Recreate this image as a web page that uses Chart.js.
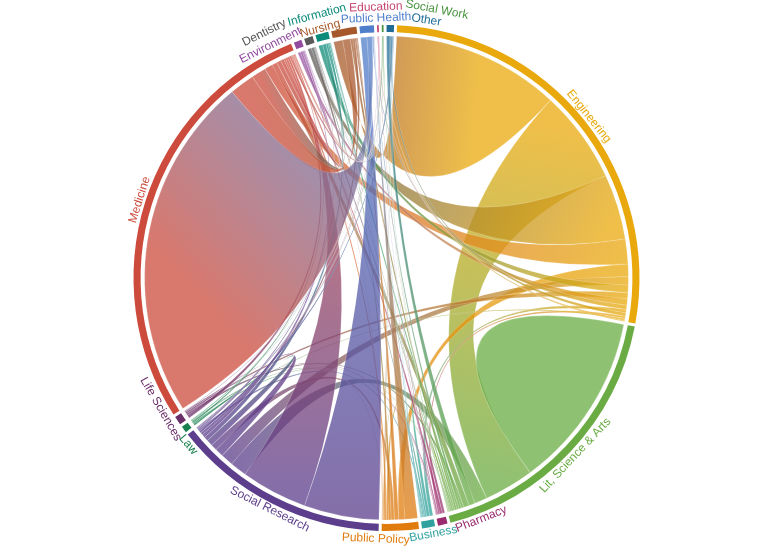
<!DOCTYPE html>
<html>
<head>
<meta charset="utf-8">
<title>Chord chart</title>
<script src="https://cdn.jsdelivr.net/npm/chart.js@4.4.1/dist/chart.umd.min.js"></script>
<style>
  html, body { margin: 0; padding: 0; background: #fff; }
</style>
</head>
<body>
<canvas id="chordChart" width="773" height="554"></canvas>
<script>
// Units around the circle (clockwise, starting at the top)
const units = [
    'Engineering', 'Lit, Science & Arts', 'Pharmacy', 'Business', 'Public Policy',
    'Social Research', 'Law', 'Life Sciences', 'Medicine', 'Environment',
    'Dentistry', 'Information', 'Nursing', 'Public Health', 'Education',
    'Social Work', 'Other'
];

const unitColors = [
    '#e9a90d', '#6aac43', '#9a2b6e', '#2fa2a0', '#e07b0d',
    '#5c3e8c', '#17804e', '#6b2f6a', '#cc4b3c', '#924b9f',
    '#5a5a5a', '#0c8b7b', '#a6582b', '#4f7fcb', '#c6446f',
    '#4a9440', '#1f6b96'
];

// One row per unit: ribbon width at that unit's end, columns in the same order as units
const engineeringRow    = [0, 223, 5, 8, 30, 20, 3, 15, 60, 15, 157, 18, 403, 10, 3, 2, 8];
const litScienceArtsRow = [120, 425, 3, 4, 4, 30, 2, 6, 13, 2, 1, 5, 5, 6, 1, 1, 15];
const pharmacyRow       = [4, 6, 0, 0, 0, 1, 0, 2, 6, 0, 0, 0, 1, 2, 0, 0, 0];
const businessRow       = [8, 7, 0, 0, 4, 3, 0, 0, 3, 0, 0, 2, 0, 2, 0, 0, 1];
const publicPolicyRow   = [15, 5, 0, 2, 0, 8, 0, 1, 4, 1, 0, 6, 10, 30, 0, 0, 3];
const socialResearchRow = [30, 40, 0, 4, 15, 0, 15, 20, 160, 8, 3, 10, 6, 180, 2, 2, 5];
const lawRow            = [2, 3, 0, 0, 1, 4, 0, 0, 3, 0, 0, 1, 0, 1, 0, 0, 0];
const lifeSciencesRow   = [4, 5, 1, 0, 0, 2, 0, 0, 7, 0, 0, 0, 0, 1, 0, 0, 0];
const medicineRow       = [20, 12, 3, 2, 5, 5, 2, 5, 0, 8, 10, 35, 60, 830, 2, 2, 4];
const environmentRow    = [6, 5, 0, 0, 1, 2, 0, 0, 3, 0, 0, 0, 0, 1, 0, 0, 0];
const dentistryRow      = [9, 2, 0, 0, 0, 1, 0, 0, 6, 0, 0, 0, 1, 1, 0, 0, 0];
const informationRow    = [10, 5, 0, 0, 1, 3, 0, 0, 8, 0, 0, 0, 1, 2, 0, 0, 0];
const nursingRow        = [22, 6, 0, 0, 2, 5, 0, 0, 18, 0, 0, 2, 0, 3, 0, 0, 0];
const publicHealthRow   = [2, 2, 0, 0, 1, 15, 0, 0, 12, 0, 0, 0, 1, 0, 0, 0, 0];
const educationRow      = [1, 1, 0, 0, 0, 1, 0, 0, 1, 0, 0, 0, 0, 0, 0, 0, 0];
const socialWorkRow     = [0, 1, 0, 0, 0, 2, 0, 0, 1, 0, 0, 0, 0, 0, 0, 0, 0];
const otherRow          = [3, 8, 0, 0, 0, 2, 0, 0, 3, 0, 0, 0, 0, 1, 0, 0, 0];

const flows = [
    engineeringRow, litScienceArtsRow, pharmacyRow, businessRow, publicPolicyRow,
    socialResearchRow, lawRow, lifeSciencesRow, medicineRow, environmentRow,
    dentistryRow, informationRow, nursingRow, publicHealthRow, educationRow,
    socialWorkRow, otherRow
];

// Label nudges (degrees along the circle, px outside the ring) so small labels don't collide
const labelPlacement = {
    'Public Policy': { shift: 5.5, lift: 8 },
    'Business': { shift: -0.8, lift: 7 },
    'Pharmacy': { shift: -8.6, lift: 6 },
    'Law': { shift: -3.3, lift: 6 },
    'Life Sciences': { shift: 4.2, lift: 8 },
    'Environment': { shift: -5.9, lift: 7 },
    'Dentistry': { shift: -8.5, lift: 21 },
    'Information': { shift: 0, lift: 19 },
    'Nursing': { shift: -5.2, lift: 5 },
    'Public Health': { shift: 2.2, lift: 7 },
    'Education': { shift: -0.3, lift: 18 },
    'Social Work': { shift: 11.5, lift: 20 },
    'Other': { shift: 7.9, lift: 8 }
};

const groupTotals = flows.map(row => row.reduce((a, b) => a + b, 0));

// Ring = doughnut slices, with transparent spacer slices between units
const PAD = 0.012; // radians between units
const grandTotal = groupTotals.reduce((a, b) => a + b, 0);
const gapValue = grandTotal * PAD / (2 * Math.PI - units.length * PAD);

const ringData = [];
const ringColors = [];
const ringLabels = [];
units.forEach((u, i) => {
    ringData.push(groupTotals[i]);
    ringColors.push(unitColors[i]);
    ringLabels.push(u);
    ringData.push(gapValue);
    ringColors.push('rgba(0,0,0,0)');
    ringLabels.push('');
});

function ribbonPath(ctx, cx, cy, r, s, t) {
    ctx.beginPath();
    ctx.moveTo(cx + r * Math.cos(s[0]), cy + r * Math.sin(s[0]));
    ctx.arc(cx, cy, r, s[0], s[1]);
    ctx.quadraticCurveTo(cx, cy, cx + r * Math.cos(t[0]), cy + r * Math.sin(t[0]));
    ctx.arc(cx, cy, r, t[0], t[1]);
    ctx.quadraticCurveTo(cx, cy, cx + r * Math.cos(s[0]), cy + r * Math.sin(s[0]));
    ctx.closePath();
}

const chordPlugin = {
    id: 'chordRibbons',
    beforeDatasetsDraw(chart) {
        const meta = chart.getDatasetMeta(0);
        const arcs = units.map((u, i) => meta.data[i * 2]);
        const cx = arcs[0].x;
        const cy = arcs[0].y;
        const r = arcs[0].innerRadius - 4;

        // subgroup angles inside each unit, largest first
        const sub = flows.map(() => []);
        units.forEach((u, i) => {
            const arc = arcs[i];
            const k = (arc.endAngle - arc.startAngle) / groupTotals[i];
            const order = flows[i].map((v, j) => j)
                .sort((a, b) => flows[i][b] - flows[i][a] || a - b);
            let a = arc.startAngle;
            order.forEach(j => {
                const w = flows[i][j] * k;
                sub[i][j] = [a, a + w];
                a += w;
            });
        });

        const ctx = chart.ctx;
        ctx.save();
        for (let i = 0; i < units.length; i++) {
            for (let j = i; j < units.length; j++) {
                if (!flows[i][j] && !flows[j][i]) continue;
                const s = sub[i][j];
                const t = sub[j][i];
                let fill = unitColors[i];
                if (i !== j) {
                    // gradient runs from one end of the ribbon to the other
                    const sm = (s[0] + s[1]) / 2;
                    const tm = (t[0] + t[1]) / 2;
                    fill = ctx.createLinearGradient(
                        cx + r * Math.cos(sm), cy + r * Math.sin(sm),
                        cx + r * Math.cos(tm), cy + r * Math.sin(tm)
                    );
                    fill.addColorStop(0, unitColors[i]);
                    fill.addColorStop(1, unitColors[j]);
                }
                ribbonPath(ctx, cx, cy, r, s, t);
                ctx.globalAlpha = 0.75;
                ctx.fillStyle = fill;
                ctx.fill();
                ctx.globalAlpha = 1;
                ctx.lineWidth = 0.5;
                ctx.strokeStyle = 'rgba(255,255,255,0.35)';
                ctx.stroke();
            }
        }
        ctx.restore();
    },
    afterDatasetsDraw(chart) {
        const meta = chart.getDatasetMeta(0);
        const ctx = chart.ctx;
        ctx.save();
        ctx.font = '12px "Liberation Sans", Arial, Helvetica, sans-serif';
        ctx.textAlign = 'center';
        ctx.textBaseline = 'middle';
        units.forEach((u, i) => {
            const arc = meta.data[i * 2];
            const place = labelPlacement[u] || {};
            const mid = (arc.startAngle + arc.endAngle) / 2 + (place.shift || 0) * Math.PI / 180;
            const rad = arc.outerRadius + (place.lift !== undefined ? place.lift : 6);
            let theta = (mid + Math.PI / 2) % (2 * Math.PI);
            if (theta < 0) theta += 2 * Math.PI;
            const deg = theta * 180 / Math.PI;
            ctx.save();
            ctx.translate(arc.x + rad * Math.cos(mid), arc.y + rad * Math.sin(mid));
            ctx.rotate(deg > 90 && deg < 270 ? theta - Math.PI : theta);
            ctx.fillStyle = u === 'Dentistry' ? '#555555' : unitColors[i];
            ctx.fillText(u, 0, 0);
            ctx.restore();
        });
        ctx.restore();
    }
};

const chordChart = new Chart(document.getElementById('chordChart'), {
    type: 'doughnut',
    data: {
        labels: ringLabels,
        datasets: [{
            data: ringData,
            backgroundColor: ringColors,
            borderWidth: 0,
            hoverOffset: 0
        }]
    },
    options: {
        responsive: false,
        animation: false,
        events: [],
        rotation: 2.4,
        cutout: '97.2%',
        layout: {
            padding: { left: 133.5, right: 133.5, top: 25, bottom: 23 }
        },
        plugins: {
            legend: { display: false },
            tooltip: { enabled: false }
        }
    },
    plugins: [chordPlugin]
});
</script>
</body>
</html>
